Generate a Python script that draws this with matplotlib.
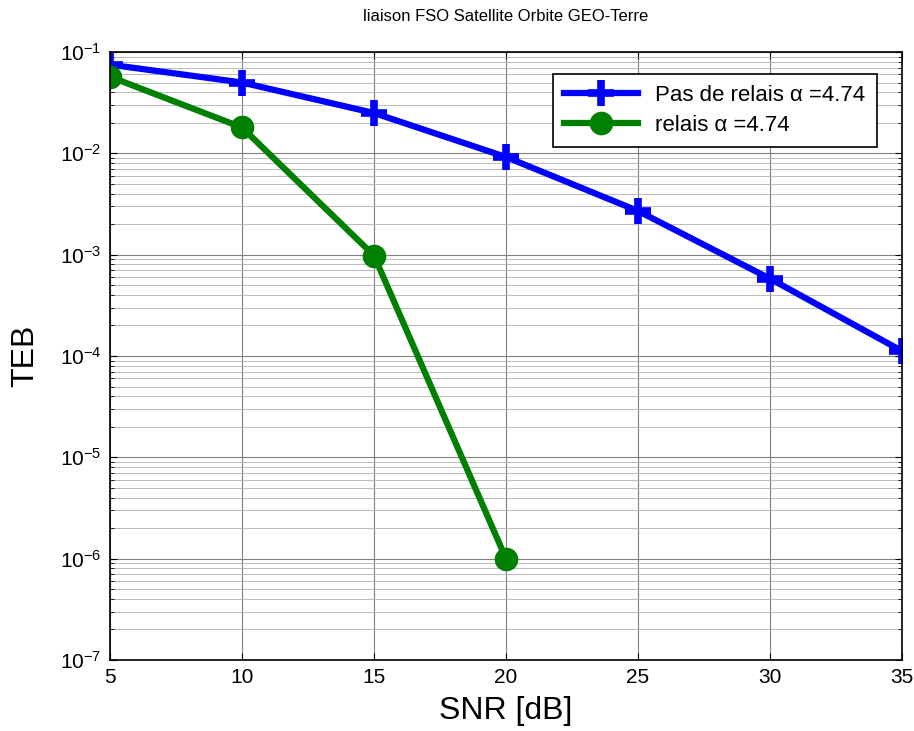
import numpy as np
import matplotlib
matplotlib.use('Agg')
import matplotlib.pyplot as plt

# données
snr_sans = [5, 10, 15, 20, 25, 30, 35]
teb_sans = [0.075, 0.05, 0.025, 0.0092, 0.0027, 0.00058, 0.000112]
snr_relais = [5, 10, 15, 20]
teb_relais = [0.057, 0.018, 0.00098, 1.0e-6]
xticks = [5, 10, 15, 20, 25, 30, 35]

plt.rcParams['font.family'] = ['Liberation Sans', 'DejaVu Sans']

fig = plt.figure(figsize=(9.14, 7.31), dpi=100)
ax = fig.add_axes([110 / 914, 71 / 731, 792 / 914, 608 / 731])

ax.semilogy(snr_sans, teb_sans, '-+', color=(0, 0, 1), linewidth=4.5,
            markersize=19, markeredgewidth=5.5,
            label='Pas de relais α =4.74')
ax.semilogy(snr_relais, teb_relais, '-o', color=(0, 0.5, 0), linewidth=4.5,
            markersize=15, markeredgewidth=2,
            label='relais α =4.74')

ax.set_xlim(5, 35)
ax.set_ylim(1e-7, 1e-1)
ax.set_xticks(xticks)
ax.set_xticklabels([str(v) for v in xticks])

ax.grid(True, which='major', color='#808080', linewidth=0.8)
ax.grid(True, which='minor', color='#b0b0b0', linewidth=0.6)
ax.tick_params(which='both', direction='in', top=True, right=True, labelsize=15)
ax.tick_params(which='major', length=5, pad=6)
ax.tick_params(which='minor', length=3)
for s in ax.spines.values():
    s.set_linewidth(1.2)

ax.set_title('liaison FSO Satellite Orbite GEO-Terre', fontsize=12, pad=22)
ax.set_xlabel('SNR [dB]', fontsize=23, labelpad=6)
ax.set_ylabel('TEB', fontsize=23, labelpad=14)

leg = ax.legend(loc='upper right', bbox_to_anchor=(0.982, 0.982), fontsize=16,
                fancybox=False, framealpha=1, edgecolor='black',
                handlelength=3.3, borderpad=0.5, labelspacing=0.4)
leg.get_frame().set_linewidth(1.2)

fig.savefig('out.png', dpi=100)
